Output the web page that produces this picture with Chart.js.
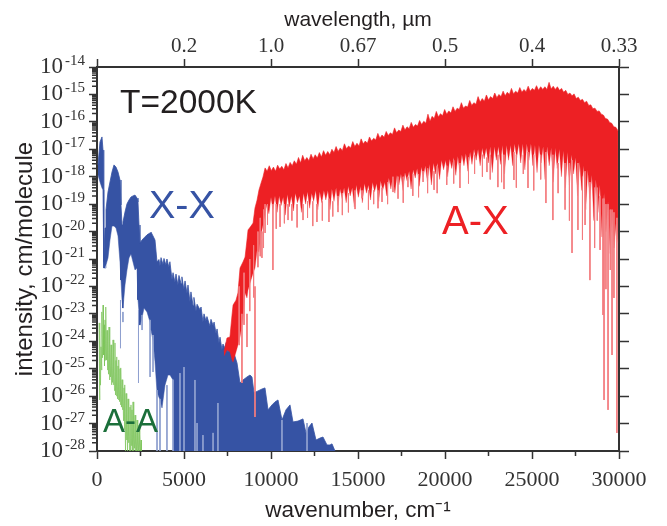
<!DOCTYPE html>
<html>
<head>
<meta charset="utf-8">
<title>Spectrum at T=2000K</title>
<script src="https://cdn.jsdelivr.net/npm/chart.js@4/dist/chart.umd.min.js"></script>
<style>
    html, body { margin: 0; padding: 0; background: #fff; }
    canvas { display: block; }
</style>
</head>
<body>
<canvas id="spectrum" width="667" height="526"></canvas>
<script>
// intensities are kept as log10(cm/molecule)
const xxTopWave = [57, 172, 287, 345, 374, 402, 460, 517, 632, 747, 862, 977, 1092, 1207, 1322, 1379, 1437, 1494, 1609, 1724, 1839, 1954, 2069, 2184, 2299, 2356, 2414, 2471, 2586, 2701, 2874, 3046, 3103, 3218, 3333, 3448, 3560, 3620, 3680, 3790, 3850, 3960, 4020, 4130, 4190, 4310, 4370, 4480, 4540, 4650, 4710, 4830, 4880, 4990, 5060, 5170, 5230, 5340, 5400, 5520, 5570, 5690, 5750, 5920, 5980, 6090, 6150, 6260, 6320, 6490, 6550, 6670, 6730, 6840, 6900, 7010, 7070, 7180, 7240, 7360, 7420, 7530, 7600, 7816, 8046, 8218, 8391, 8621, 8793, 8908, 9023, 9253, 9483, 9655, 9828, 10057, 10230, 10402, 10632, 10862, 11092, 11264, 11552, 11839, 12011, 12184, 12356, 12586, 12816, 12988, 13218, 13391, 13506, 13678];
const xxTop = [-17.57, -16.73, -16.55, -17.03, -18.48, -21.11, -19.87, -19.21, -18.56, -18.19, -17.83, -17.57, -17.65, -17.83, -18.12, -19.03, -19.76, -19.65, -19.29, -18.99, -18.85, -18.74, -18.70, -18.67, -18.78, -18.92, -19.76, -20.42, -20.31, -20.23, -20.12, -20.05, -20.02, -20.16, -20.31, -21.11, -21.02, -21.25, -20.95, -21.20, -20.98, -21.22, -21.00, -21.30, -21.10, -21.75, -21.50, -21.85, -21.55, -21.95, -21.60, -21.90, -21.65, -22.10, -21.80, -22.25, -21.95, -22.55, -22.20, -22.70, -22.40, -22.90, -22.65, -22.85, -22.75, -23.30, -23.00, -23.25, -23.10, -23.45, -23.20, -23.42, -23.30, -23.72, -23.55, -24.05, -23.85, -24.30, -24.10, -24.25, -24.05, -24.40, -24.20, -24.32, -24.79, -25.52, -25.41, -25.30, -25.23, -25.30, -25.88, -25.81, -25.74, -25.70, -26.50, -26.32, -26.21, -26.14, -26.87, -26.50, -26.32, -26.94, -26.91, -26.83, -27.34, -27.12, -26.98, -27.60, -27.53, -27.49, -27.78, -27.78, -27.74, -28];
const xxLowWave = [57, 172, 287, 345, 374, 402, 460, 517, 632, 747, 862, 977, 1092, 1207, 1322, 1379, 1437, 1494, 1609, 1724, 1839, 1954, 2069, 2184, 2299, 2356, 2414, 2471, 2586, 2701, 2874, 3046, 3103, 3218, 3333, 3448, 3621, 3736, 3908, 4080, 4195, 4368, 4425, 13678];
const xxLow = [-17.94, -18.19, -18.41, -18.48, -18.48, -21.33, -21.33, -21.22, -20.96, -20.31, -19.80, -19.80, -19.87, -20.16, -21.11, -21.77, -22.49, -22.79, -21.95, -21.40, -20.96, -20.82, -21.11, -21.40, -21.33, -22.49, -22.93, -23.41, -23.15, -22.79, -22.93, -23.30, -23.59, -23.95, -24.75, -25.85, -26.14, -26.43, -25.60, -25.23, -25.23, -25.41, -28, -28];
// thin pale lines: dips below the band and gaps inside it
const xxDipWave = [1350, 1490, 2385, 2590, 3050, 3220, 3450, 3620, 4020, 4370, 4770, 5000, 5630, 5750, 6090, 6670, 6950, 10630, 12070];
const xxDipHigh = [-22.50, -22.93, -22.86, -23.04, -23.22, -23.77, -25.78, -26.1, -25.60, -25.4, -25.16, -24.94, -25.41, -26.98, -27.42, -27.34, -26.25, -26.87, -26.98];
const xxDipLow = [-24.25, -23.30, -25.52, -23.59, -25.30, -25.12, -28, -28, -28, -28, -28, -28, -28, -28, -28, -28, -28, -28, -28];

const axTopWave = [7300, 7470, 7640, 7760, 7820, 7990, 8100, 8220, 8390, 8510, 8620, 8680, 8850, 8970, 9080, 9200, 9310, 9430, 9540, 9660, 9780, 9900, 10020, 10140, 10260, 10380, 10500, 10620, 10740, 10860, 10980, 11100, 11220, 11340, 11460, 11580, 11700, 11820, 11940, 12060, 12180, 12300, 12420, 12540, 12660, 12780, 12900, 13020, 13140, 13260, 13380, 13500, 13620, 13740, 13860, 13980, 14100, 14220, 14340, 14460, 14580, 14700, 14820, 14940, 15060, 15180, 15300, 15420, 15540, 15660, 15780, 15900, 16020, 16140, 16260, 16380, 16500, 16620, 16740, 16860, 16980, 17100, 17220, 17340, 17460, 17580, 17700, 17820, 17940, 18060, 18180, 18300, 18420, 18540, 18660, 18780, 18900, 19020, 19140, 19260, 19380, 19500, 19620, 19740, 19860, 19980, 20100, 20220, 20340, 20460, 20580, 20700, 20820, 20940, 21060, 21180, 21300, 21420, 21540, 21660, 21780, 21900, 22020, 22140, 22260, 22380, 22500, 22620, 22740, 22860, 22980, 23100, 23220, 23340, 23460, 23580, 23700, 23820, 23940, 24060, 24180, 24300, 24420, 24540, 24660, 24780, 24900, 25020, 25140, 25260, 25380, 25500, 25620, 25740, 25860, 25980, 26100, 26220, 26340, 26460, 26580, 26700, 26820, 26940, 27060, 27180, 27300, 27420, 27540, 27660, 27780, 27900, 28020, 28140, 28260, 28380, 28500, 28620, 28740, 28860, 28980, 29100, 29220, 29340, 29460, 29580, 29700, 29820, 29940];
const axTop = [-24.39, -23.88, -23.84, -23.04, -22.68, -22.50, -22.24, -21.33, -21.11, -20.93, -20.31, -19.94, -19.80, -19.69, -19.14, -18.85, -18.48, -18.23, -18.01, -17.68, -17.80, -17.60, -17.78, -17.65, -17.80, -17.58, -17.72, -17.62, -17.75, -17.52, -17.68, -17.48, -17.60, -17.42, -17.55, -17.30, -17.50, -17.22, -17.42, -17.30, -17.42, -17.18, -17.35, -17.20, -17.32, -17.12, -17.28, -17.05, -17.22, -17.08, -17.20, -17.00, -17.12, -16.90, -17.08, -16.95, -17.05, -16.80, -16.98, -16.88, -16.95, -16.72, -16.90, -16.78, -16.88, -16.62, -16.80, -16.70, -16.78, -16.55, -16.70, -16.60, -16.66, -16.42, -16.60, -16.48, -16.56, -16.35, -16.50, -16.40, -16.46, -16.22, -16.40, -16.30, -16.35, -16.12, -16.30, -16.18, -16.25, -16.02, -16.20, -16.10, -16.15, -15.95, -16.10, -15.98, -16.05, -15.72, -15.98, -15.80, -15.88, -15.62, -15.82, -15.70, -15.78, -15.55, -15.72, -15.60, -15.68, -15.45, -15.62, -15.50, -15.55, -15.30, -15.50, -15.42, -15.46, -15.22, -15.40, -15.30, -15.36, -15.08, -15.28, -15.15, -15.25, -15.02, -15.20, -15.08, -15.15, -14.95, -15.12, -15.00, -15.08, -14.88, -15.05, -14.92, -15.00, -14.78, -14.98, -14.88, -14.95, -14.75, -14.92, -14.82, -14.90, -14.70, -14.88, -14.78, -14.85, -14.68, -14.85, -14.72, -14.82, -14.72, -14.82, -14.56, -14.80, -14.70, -14.82, -14.72, -14.85, -14.78, -14.92, -14.85, -15.00, -14.95, -15.05, -14.98, -15.15, -15.10, -15.22, -15.18, -15.30, -15.25, -15.40, -15.38, -15.52, -15.50, -15.62, -15.60, -15.72, -15.75, -15.88, -15.90, -16.02, -16.05, -16.18, -16.20, -16.32];
const axLowWave = [7300, 7470, 7640, 7760, 7820, 7990, 8100, 8220, 8390, 8510, 8620, 8680, 8850, 8970, 9080, 9200, 9310, 9430, 9540, 9650, 9760, 9880, 10000, 10110, 10230, 10350, 10470, 10580, 10700, 10820, 10940, 11050, 11170, 11290, 11400, 11520, 11640, 11750, 11870, 11990, 12100, 12220, 12340, 12450, 12570, 12690, 12800, 12920, 13040, 13150, 13270, 13390, 13500, 13620, 13740, 13850, 13970, 14090, 14200, 14320, 14440, 14550, 14670, 14790, 14900, 15020, 15140, 15250, 15370, 15490, 15600, 15720, 15840, 15950, 16070, 16190, 16300, 16420, 16540, 16650, 16770, 16890, 17000, 17120, 17240, 17350, 17470, 17590, 17700, 17820, 17940, 18050, 18170, 18290, 18400, 18520, 18640, 18750, 18870, 18990, 19100, 19220, 19340, 19450, 19570, 19690, 19800, 19920, 20040, 20150, 20270, 20390, 20500, 20620, 20740, 20850, 20970, 21090, 21200, 21320, 21440, 21550, 21670, 21790, 21900, 22020, 22140, 22250, 22370, 22490, 22600, 22720, 22840, 22950, 23070, 23190, 23300, 23420, 23540, 23650, 23770, 23890, 24000, 24120, 24240, 24350, 24470, 24590, 24700, 24820, 24940, 25050, 25170, 25290, 25400, 25520, 25640, 25750, 25870, 25990, 26100, 26220, 26340, 26450, 26570, 26690, 26800, 26920, 27040, 27150, 27270, 27390, 27500, 27620, 27740, 27850, 27970, 28090, 28200, 28320, 28440, 28550, 28670, 28790, 28900, 29020, 29140, 29250, 29370, 29490, 29600, 29720, 29840, 29940];
const axLow = [-24.54, -24.32, -24.39, -24.68, -24.76, -24.39, -24.14, -23.84, -23.15, -22.24, -22.42, -22.13, -21.77, -21.51, -21.33, -20.67, -20.75, -20.12, -19.76, -19.40, -19.00, -19.35, -18.75, -19.20, -18.70, -19.30, -18.70, -19.05, -18.75, -19.40, -18.65, -19.10, -18.70, -19.25, -18.60, -18.95, -18.70, -19.30, -18.60, -19.00, -18.55, -19.15, -18.60, -18.90, -18.50, -19.20, -18.55, -18.95, -18.50, -18.85, -18.50, -19.20, -18.45, -18.90, -18.40, -19.05, -18.45, -18.80, -18.40, -18.95, -18.35, -18.70, -18.40, -19.10, -18.30, -18.75, -18.35, -18.95, -18.25, -18.60, -18.30, -18.85, -18.20, -18.55, -18.25, -18.90, -18.15, -18.50, -18.20, -18.70, -18.05, -18.45, -18.00, -18.60, -17.95, -18.30, -17.90, -18.50, -17.85, -18.15, -17.80, -18.45, -17.75, -18.05, -17.70, -18.35, -17.65, -18.00, -17.60, -18.20, -17.55, -18.30, -17.50, -17.90, -17.50, -18.10, -17.40, -17.75, -17.40, -18.00, -17.35, -17.70, -17.30, -17.95, -17.25, -17.85, -17.20, -17.60, -17.15, -17.80, -17.10, -17.55, -17.00, -17.40, -17.00, -17.60, -16.95, -17.35, -16.95, -17.50, -16.90, -17.85, -16.90, -17.40, -16.90, -17.55, -16.85, -17.90, -16.85, -17.40, -16.85, -17.60, -16.80, -17.30, -16.80, -17.50, -16.80, -17.75, -16.80, -17.40, -16.80, -17.60, -16.85, -17.85, -16.85, -17.50, -16.90, -18.10, -16.90, -17.60, -16.95, -18.20, -16.95, -17.70, -17.00, -18.00, -17.05, -18.40, -17.10, -18.30, -17.20, -17.90, -17.30, -18.70, -17.45, -18.50, -17.60, -19.20, -17.75, -18.80, -17.95, -19.60, -18.10, -19.30, -18.30, -20.20, -18.60, -20.00, -18.90, -20.80, -19.20, -20.60, -19.60, -20.40];
const axDipWave = [8330, 8620, 9080, 9480, 9660, 10110, 10520, 10980, 11840, 12640, 13330, 13850, 14830, 15230, 16380, 17010, 17870, 18740, 19370, 20860, 22410, 23040, 23390, 23960, 24770, 25800, 26200, 27300, 27640, 28050, 28330, 28910, 29080, 29140, 29370, 29600, 29710, 29880, 8170, 8450, 8780, 9000, 9250, 9380, 9570, 9800, 10300, 10770, 11200, 11500, 12100, 12400, 12950, 13550, 14100, 14450, 15600, 15900, 16150, 16700, 17300, 17600, 18150, 18480, 19000, 19550, 20100, 20500, 21350, 21700, 22150, 22600, 23250, 24100, 24500, 25100, 25500, 26500, 26900, 27150, 27900, 28600, 28750, 29250, 29500];
const axDipHigh = [-23, -23, -22, -20, -19, -19, -19, -19, -19, -19, -18.8, -18.7, -18.5, -18.5, -18.4, -18, -18, -17.8, -17.8, -17.5, -17.3, -17.2, -17.2, -17.1, -17.1, -17.1, -17.2, -17.4, -17.5, -17.8, -18.2, -18.7, -18.8, -18.8, -19, -19.2, -19.3, -19.5, -22, -21.5, -21, -20.5, -20, -19.5, -19.2, -19, -19, -19, -19, -19, -18.9, -18.9, -18.9, -18.9, -18.6, -18.6, -18.5, -18.5, -18.5, -18.2, -18, -18, -17.9, -17.9, -17.7, -17.6, -17.6, -17.4, -17.3, -17.2, -17.2, -17.2, -17.2, -17.2, -17.2, -17.2, -17.2, -17.5, -17.5, -17.5, -18, -18.4, -18.4, -19, -19.2];
const axDipLow = [-25.52, -24.21, -26.76, -20.96, -20.05, -21.40, -19.83, -19.58, -19.58, -19.65, -19.65, -19.29, -19.18, -18.78, -18.92, -18.56, -18.38, -18.19, -18.48, -18.41, -17.83, -18.38, -18.45, -18.12, -18.41, -18.96, -19.58, -20.78, -19.94, -19.76, -21.77, -20.67, -23.04, -26.14, -26.50, -24.50, -22.42, -27.34, -24.14, -23.4, -22.9, -22.4, -21.3, -20.9, -20.6, -19.75, -19.9, -19.7, -19.6, -19.85, -19.5, -19.8, -19.6, -19.45, -19.4, -19.3, -19.2, -19.0, -19.15, -19.0, -18.8, -18.95, -18.7, -18.75, -18.6, -18.6, -18.3, -18.25, -18.25, -17.9, -18, -18.1, -18.2, -18.4, -17.9, -18.5, -18.1, -18.6, -19.2, -19.6, -20.3, -20.6, -19.6, -22.1, -21.4];

// A-A is a plain up and down trace
const aaWave = [115, 144, 172, 201, 230, 258, 287, 316, 345, 374, 403, 431, 460, 489, 517, 546, 575, 603, 632, 661, 690, 718, 747, 776, 805, 833, 862, 891, 920, 948, 977, 1006, 1034, 1063, 1092, 1120, 1149, 1178, 1207, 1235, 1264, 1293, 1322, 1350, 1379, 1408, 1437, 1465, 1494, 1523, 1552, 1580, 1609, 1638, 1667, 1695, 1724, 1753, 1782, 1810, 1839, 1868, 1896, 1925, 1954, 1983, 2011, 2040, 2069, 2098, 2126, 2155, 2184, 2213, 2241, 2270, 2299, 2328, 2356, 2385, 2414, 2443, 2471, 2500, 2529, 2557];
const aaValues = [-23.33, -26.14, -23.59, -25.6, -24.2, -25.05, -22.93, -24.6, -22.68, -24.50, -23.4, -24.9, -23.22, -24.7, -22.75, -24.68, -23.6, -25.05, -23.77, -25.2, -23.48, -25.41, -24.0, -25.3, -24.13, -25.59, -24.4, -25.5, -23.95, -25.59, -24.5, -25.8, -24.06, -25.96, -24.7, -26.0, -24.57, -26.1, -24.9, -26.14, -24.68, -26.2, -25.0, -26.32, -24.97, -26.4, -25.4, -26.50, -25.41, -26.9, -25.7, -27.23, -25.59, -28, -25.9, -27.6, -25.96, -28, -26.1, -27.7, -26.14, -28, -26.4, -28, -26.32, -27.8, -26.5, -28, -26.21, -28, -26.7, -27.9, -26.69, -28, -27, -28, -26.87, -28, -27.2, -28, -27.05, -28, -27.4, -28, -27.60, -28];

const yExponents = [-14, -15, -16, -17, -18, -19, -20, -21, -22, -23, -24, -25, -26, -27, -28];
const yMinorSteps = [2, 3, 4, 5, 6, 7, 8, 9];
const xMinorTicks = [2500, 7500, 12500, 17500, 22500, 27500];
const wavelengthLabels = ["", "0.2", "1.0", "0.67", "0.5", "0.4", "0.33"];

// label, wavenumber, log intensity of the baseline, font, colour
const notes = [
    ["T=2000K", 1320, -15.68, "33.5px 'Liberation Sans'", "#231f20"],
    ["X-X", 2990, -19.5, "39.5px 'Liberation Sans'", "#3653a4"],
    ["A-X", 19830, -20.09, "40px 'Liberation Sans'", "#ed2024"],
    ["A-A", 345, -27.31, "33px 'Liberation Sans'", "#1b6f3a"],
];

const inkColor = "#333333";
const serif = "'Liberation Serif'";
const sans = "'Liberation Sans'";

function toPoints(waves, logs) {
    return waves.map((w, i) => ({ x: w, y: Math.pow(10, logs[i]) }));
}

function toStreaks(waves, highs, lows) {
    let out = [];
    waves.forEach((w, i) => {
        out.push({ x: w, y: Math.pow(10, highs[i]) });
        out.push({ x: w, y: Math.pow(10, lows[i]) });
        out.push({ x: w, y: null });
    });
    return out;
}

function band(data, color, fill, width) {
    return { data: data, borderColor: color, backgroundColor: color, borderWidth: width, pointRadius: 0, tension: 0, fill: fill };
}

// minor ticks, superscripts of the y labels and the text inside the plot
const extras = {
    id: "extras",
    afterDraw(chart) {
        const c = chart.ctx;
        const sx = chart.scales.x;
        const sy = chart.scales.y;
        c.save();
        c.strokeStyle = inkColor;
        c.lineWidth = 1.5;
        c.beginPath();
        xMinorTicks.forEach((v) => {
            const px = sx.getPixelForValue(v);
            c.moveTo(px, sx.top);
            c.lineTo(px, sx.top + 5);
        });
        yExponents.slice(1).forEach((e) => {
            yMinorSteps.forEach((m) => {
                const py = sy.getPixelForValue(m * Math.pow(10, e));
                c.moveTo(sy.right, py);
                c.lineTo(sy.right - 5, py);
            });
        });
        c.stroke();

        c.fillStyle = inkColor;
        c.font = "15px " + serif;
        c.textAlign = "left";
        c.textBaseline = "alphabetic";
        yExponents.forEach((e) => {
            c.fillText(String(e), 65, sy.getPixelForValue(Math.pow(10, e)) - 2);
        });

        notes.forEach((n) => {
            c.font = n[3];
            c.fillStyle = n[4];
            c.fillText(n[0], sx.getPixelForValue(n[1]), sy.getPixelForValue(Math.pow(10, n[2])));
        });
        c.restore();
    },
};

function xAxis(position, labelFn, title, titleSize, titlePad, size, tickFont, tickPad) {
    return {
        type: "linear",
        position: position,
        min: 0,
        max: 30000,
        border: { display: true, color: inkColor, width: 2 },
        grid: { drawOnChartArea: false, drawTicks: true, tickLength: 8, tickColor: inkColor, tickWidth: 1.5 },
        ticks: { stepSize: 5000, autoSkip: false, maxRotation: 0, padding: tickPad, color: inkColor, font: tickFont, callback: labelFn },
        title: { display: true, text: title, color: "#231f20", font: { family: sans, size: titleSize }, padding: titlePad },
        afterFit(scale) { scale.height = size; },
    };
}

new Chart(document.getElementById("spectrum"), {
    type: "line",
    data: {
        datasets: [
            band(toStreaks(axDipWave, axDipHigh, axDipLow), "#f37b7e", false, 1),
            band(toPoints(axTopWave, axTop), "#ed2024", "+1", 0.6),
            band(toPoints(axLowWave, axLow), "#ed2024", false, 0.3),
            band(toStreaks(xxDipWave, xxDipHigh, xxDipLow), "#8fa0cf", false, 1),
            band(toPoints(xxTopWave, xxTop), "#3653a4", "+1", 0.8),
            band(toPoints(xxLowWave, xxLow), "#3653a4", false, 0.5),
            band(toPoints(aaWave, aaValues), "#7cc45a", false, 0.7),
        ],
    },
    plugins: [extras],
    options: {
        responsive: false,
        animation: false,
        parsing: false,
        normalized: false,
        layout: { padding: 0 },
        plugins: { legend: { display: false }, tooltip: { enabled: false } },
        scales: {
            x: xAxis("bottom", (v) => String(v), "wavenumber, cm⁻¹", 22.5, { top: 13, bottom: 2 }, 75, { family: serif, size: 22 }, 8),
            x2: xAxis("top", (v) => wavelengthLabels[v / 5000], "wavelength, µm", 21, { top: 8, bottom: 3 }, 67, { family: serif, size: 21 }, 0),
            y: {
                type: "logarithmic",
                position: "left",
                min: 1e-28,
                max: 1e-14,
                border: { display: true, color: inkColor, width: 2 },
                grid: { drawOnChartArea: false, tickLength: 8, tickColor: inkColor, tickWidth: 1.5 },
                afterBuildTicks(scale) {
                    scale.ticks = yExponents.map((e) => ({ value: Math.pow(10, e) }));
                },
                ticks: { autoSkip: false, padding: 26, color: inkColor, font: { family: serif, size: 23 }, callback: () => "10" },
                title: { display: true, text: "intensity, cm/molecule", color: "#231f20", font: { family: sans, size: 24 }, padding: { top: 11, bottom: 0 } },
                afterFit(scale) { scale.width = 97; },
            },
            y2: {
                type: "logarithmic",
                position: "right",
                min: 1e-28,
                max: 1e-14,
                border: { display: true, color: inkColor, width: 2 },
                grid: { drawOnChartArea: false, tickLength: 10, tickColor: inkColor, tickWidth: 1.5 },
                afterBuildTicks(scale) {
                    scale.ticks = yExponents.map((e) => ({ value: Math.pow(10, e) }));
                },
                ticks: { autoSkip: false, padding: 0, callback: () => "" },
                afterFit(scale) { scale.width = 48; },
            },
        },
    },
});
</script>
</body>
</html>
